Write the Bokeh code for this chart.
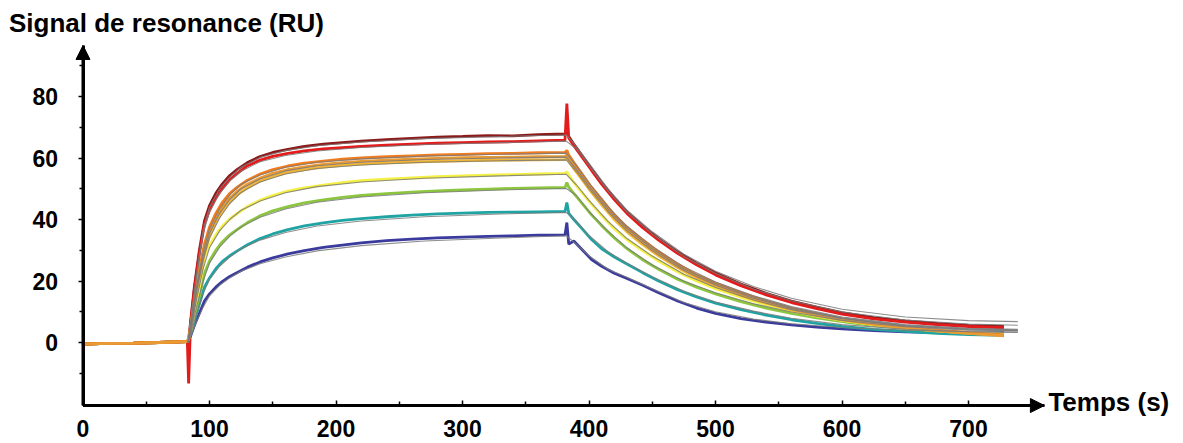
from bokeh.plotting import figure
from bokeh.models import Range1d, Arrow, NormalHead, Label, FixedTicker
from bokeh.embed import file_html
from bokeh.resources import INLINE

# ---------------- data ----------------
time_s = [0, 20, 40, 60, 81, 82.5, 83.5, 85, 88, 92, 96, 100, 105, 110, 116, 122, 130, 140, 150, 162,
          175, 190, 205, 220, 240, 260, 280, 300, 320, 340, 360, 381, 382.5, 384, 388, 395, 402, 410,
          420, 430, 442, 455, 470, 485, 500, 520, 540, 560, 580, 600, 625, 650, 675, 700, 728]

dark_red = [-0.5, -0.3, -0.2, 0, 0.3, 0.3, 1,
            6.5, 18, 30, 39.5, 44.5, 48.5, 51.5, 54.3, 56.3, 58.5, 60.5, 61.8, 62.8, 63.8, 64.5, 65, 65.5,
            66, 66.4, 66.8, 67, 67.3, 67.2, 67.6, 67.8,
            68.5, 67, 64.5, 60.5, 56.5, 52, 47, 42.5, 38, 33.8, 29.5, 25.8, 22.7, 19, 16, 13.5, 11.5, 9.7,
            8.1, 7, 6.2, 5.6, 5.2]
red = [-0.5, -0.3, -0.2, 0, 0.3, 0, -13.3,
       6, 17, 29, 38.5, 43, 47, 50, 53, 55, 57.5, 59.3, 60.5, 61.5, 62.3, 63, 63.4, 63.8, 64.2, 64.5,
       64.8, 65, 65.2, 65.3, 65.6, 65.8,
       77.7, 66.5, 64, 60, 56, 51.5, 46.5, 42, 37.5, 33.3, 29, 25.3, 22, 18.5, 15.5, 13, 11, 9.2, 7.7,
       6.6, 5.8, 5.2, 4.8]
orange = [-0.5, -0.3, -0.2, 0, 0.3, 0.3, 1,
          5, 14, 24, 32, 37.5, 42, 45.5, 48.5, 50.5, 52.8, 54.8, 56.2, 57.4, 58.3, 59, 59.6, 60, 60.4,
          60.7, 61, 61.2, 61.4, 61.5, 61.7, 61.8,
          62.5, 61, 58.5, 54.5, 50.5, 46.5, 41.5, 37.5, 33.5, 29.5, 25.5, 22, 19.3, 16.2, 13.5, 11.2, 9.3,
          7.7, 6.2, 5, 4, 3.2, 2.5]
gold = [-0.5, -0.3, -0.2, 0, 0.3, 0.3, 1,
        4.5, 13, 22.5, 30.5, 36, 40.5, 44, 47, 49.2, 51.5, 53.5, 55, 56.2, 57.1, 57.9, 58.5, 58.9, 59.3,
        59.6, 59.9, 60.1, 60.2, 60.3, 60.4, 60.5,
        61, 59.8, 57.3, 53.5, 49.6, 45.6, 40.8, 36.8, 32.8, 28.8, 24.9, 21.5, 18.8, 15.7, 13.1, 10.9, 9,
        7.5, 6, 4.8, 3.8, 3, 2.2]
tan = [-0.5, -0.3, -0.2, 0, 0.3, 0.3, 1,
       4.2, 12, 21, 29, 34.5, 39, 42.5, 45.7, 48, 50.4, 52.5, 54, 55.3, 56.2, 57, 57.6, 58, 58.4, 58.7,
       58.9, 59.1, 59.2, 59.3, 59.4, 59.5,
       60, 59, 56.5, 52.7, 48.8, 44.8, 40, 36, 32, 28.2, 24.4, 21, 18.3, 15.3, 12.8, 10.6, 8.8, 7.3,
       5.9, 4.7, 3.8, 3, 2.4]
yellow = [-0.5, -0.3, -0.2, 0, 0.3, 0.3, 1,
          3.5, 10, 18, 27.5, 31.5, 35, 37.8, 40.2, 42, 44.2, 46.3, 47.8, 49.2, 50.3, 51.2, 52, 52.6, 53.1,
          53.5, 53.9, 54.2, 54.4, 54.6, 54.8, 55,
          55.5, 54.5, 52, 48.5, 45, 41.3, 37, 33.5, 30, 26.5, 23, 20, 17.5, 14.7, 12.3, 10.3, 8.6, 7.2,
          5.8, 4.7, 3.9, 3.3, 2.8]
green = [-0.5, -0.3, -0.2, 0, 0.3, 0.3, 1,
         3, 8.5, 15, 22.5, 26.5, 30, 32.7, 35, 36.8, 39, 41.2, 42.8, 44.2, 45.4, 46.4, 47.2, 47.8, 48.4,
         48.9, 49.3, 49.6, 49.9, 50.1, 50.3, 50.4,
         52, 50.5, 48.5, 45, 41.5, 38, 34, 30.5, 27, 23.8, 20.6, 18, 15.8, 13.3, 11.2, 9.5, 8, 6.8, 5.5,
         4.5, 3.7, 3.1, 2.7]
teal = [-0.5, -0.3, -0.2, 0, 0.3, 0.3, 1,
        2.5, 7, 12.5, 18, 21, 24, 26.3, 28.2, 29.8, 31.8, 33.8, 35.3, 36.7, 37.9, 38.9, 39.7, 40.3, 40.9,
        41.4, 41.8, 42.1, 42.3, 42.4, 42.5, 42.6,
        45.5, 42, 40, 36.8, 33.5, 30.5, 27.8, 25.5, 22.8, 20, 17.2, 14.8, 12.8, 10.7, 8.9, 7.4, 6.2, 5.2,
        4.3, 3.6, 3, 2.6, 2.3]
blue = [-0.5, -0.3, -0.2, 0, 0.3, 0.3, 1,
        2, 5.5, 9.5, 13.5, 15.8, 18, 19.8, 21.5, 22.8, 24.5, 26.2, 27.5, 28.8, 29.9, 30.9, 31.7, 32.4, 33.1,
        33.6, 34, 34.3, 34.5, 34.7, 34.9, 35,
        39, 32, 33, 30, 27, 24.8, 22.5, 20.8, 18.7, 16.2, 13.5, 11.2, 9.5, 7.8, 6.6, 5.7, 5, 4.4, 3.9,
        3.5, 3.2, 3, 3.2]

# fitted curves (grey)
fit_time_s = [83, 86, 90, 95, 100, 108, 116, 125, 140, 160, 185, 220, 270, 330, 382,
              390, 400, 415, 430, 450, 475, 500, 530, 560, 600, 650, 700, 739]
fit_dark_red = [0, 9.5, 23, 36.5, 44, 50, 53.8, 57, 60.2, 62.4, 64, 65.2, 66.3, 67, 67.5,
                63.8, 58.3, 50, 43, 36, 28.7, 23.2, 18.2, 14.4, 10.8, 8.3, 7.1, 6.8]
fit_red = [0, 9, 22, 35.5, 42.5, 48.5, 52.5, 55.7, 58.8, 60.8, 62.3, 63.4, 64.4, 65, 65.5,
           63, 57.5, 49.3, 42.4, 35.3, 28, 22.5, 17.4, 13.6, 9.9, 7.3, 6, 5.6]
fit_orange = [0, 8, 19, 29.5, 37, 43.5, 48, 51.5, 54.5, 57, 58.6, 59.7, 60.6, 61.2, 61.6,
              57.6, 51.8, 44.2, 37.8, 31.2, 24.6, 19.7, 15.2, 11.7, 8.3, 5.8, 4.6, 4.3]
fit_gold = [0, 7.5, 18, 28, 35.5, 42, 46.5, 50, 53.2, 55.8, 57.5, 58.6, 59.5, 60, 60.3,
            56.4, 50.8, 43.4, 37.1, 30.5, 24, 19.2, 14.8, 11.4, 8.1, 5.6, 4.4, 4.1]
fit_tan = [0, 7, 17, 26.8, 34, 40.5, 45.2, 48.8, 52.2, 54.8, 56.6, 57.7, 58.6, 59.1, 59.4,
           55.6, 50, 42.6, 36.3, 29.8, 23.4, 18.7, 14.4, 11.1, 7.9, 5.4, 4.2, 3.9]
fit_yellow = [0, 6, 14.5, 24, 30.8, 36.3, 40, 43, 46, 48.7, 50.7, 52.2, 53.4, 54.2, 54.7,
              51.3, 46.2, 39.4, 33.8, 28.1, 22.2, 17.9, 13.8, 10.7, 7.7, 5.4, 4.3, 4]
fit_green = [0, 5, 12, 20, 25.8, 31, 34.6, 37.6, 40.7, 43.4, 45.6, 47.3, 48.7, 49.6, 50.1,
             47.8, 42.6, 36.2, 30.8, 25.2, 19.9, 16.2, 12.6, 9.9, 7.2, 5.1, 4, 3.8]
fit_teal = [0, 4, 9.5, 16, 20.5, 24.8, 27.8, 30.5, 33.3, 35.8, 37.9, 39.5, 40.9, 41.8, 42.3,
            39.5, 34.8, 29.5, 25.8, 21.4, 16.7, 13.2, 10.2, 7.9, 5.8, 4.3, 3.5, 3.3]
fit_blue = [0, 3, 7, 11.5, 15.2, 18.6, 21, 23.2, 25.6, 27.8, 29.8, 31.5, 33, 34, 34.7,
            32, 28.2, 23.8, 21.2, 17.5, 13, 10, 7.6, 6.1, 4.9, 4, 3.6, 3.4]

x_ticks = [0, 100, 200, 300, 400, 500, 600, 700]
y_ticks = [0, 20, 40, 60, 80]

# ---------------- styling ----------------
FONT = "Liberation Sans"
colours = {
    "blue": "#3b3b9e", "teal": "#1fa3a3", "green": "#8cc63e", "yellow": "#f4f046",
    "dark_red": "#8c1a1a", "red": "#e31b1b", "tan": "#f2b632", "orange": "#f07c1f", "gold": "#e89a34",
}
draw = [("blue", blue, fit_blue), ("teal", teal, fit_teal), ("green", green, fit_green),
        ("yellow", yellow, fit_yellow), ("dark_red", dark_red, fit_dark_red), ("red", red, fit_red),
        ("tan", tan, fit_tan), ("orange", orange, fit_orange), ("gold", gold, fit_gold)]

# axis extent (data units) and the visible window around it
AX_X0, AX_X1 = 0, 760
AX_Y0, AX_Y1 = -20.5, 96.6
W, H = 1183, 443
PX_PER_S, PX_PER_RU = 1.265, 3.075
ORIGIN_X, ORIGIN_Y = 82.5, 342.0   # pixel position of (0, 0)

x_range = Range1d(-ORIGIN_X / PX_PER_S, (W - ORIGIN_X) / PX_PER_S)
y_range = Range1d(-(H - ORIGIN_Y) / PX_PER_RU, ORIGIN_Y / PX_PER_RU)

p = figure(width=W, height=H, output_backend="svg", toolbar_location=None,
           x_range=x_range, y_range=y_range,
           min_border_left=0, min_border_right=0, min_border_top=0, min_border_bottom=0)
p.outline_line_color = None
p.xgrid.visible = False
p.ygrid.visible = False
p.background_fill_color = "white"

for name, ys, fys in draw:
    p.line(time_s, ys, line_color=colours[name], line_width=2.8)
for name, ys, fys in draw:
    p.line(fit_time_s, fys, line_color="#7a7a7a", line_width=1.1, line_alpha=0.85)

for ax in (p.xaxis[0], p.yaxis[0]):
    ax.axis_line_width = 3
    ax.axis_line_color = "black"
    ax.major_tick_line_color = "black"
    ax.minor_tick_line_color = "black"
    ax.major_tick_line_width = 1.5
    ax.minor_tick_line_width = 1.5
    ax.major_label_text_font = FONT
    ax.major_label_text_font_style = "bold"
    ax.major_label_text_font_size = "23px"
    ax.major_label_text_color = "black"

p.xaxis.fixed_location = AX_Y0
p.xaxis.bounds = (AX_X0, AX_X1)
p.xaxis.ticker = FixedTicker(ticks=x_ticks, minor_ticks=[50, 150, 250, 350, 450, 550, 650])
p.xaxis.major_tick_in = 5
p.xaxis.major_tick_out = 0
p.xaxis.minor_tick_in = 4
p.xaxis.minor_tick_out = 0
p.xaxis.major_label_standoff = 14

p.yaxis.fixed_location = AX_X0
p.yaxis.bounds = (AX_Y0, AX_Y1)
p.yaxis.ticker = FixedTicker(ticks=y_ticks, minor_ticks=[-10, 10, 30, 50, 70, 90])
p.yaxis.major_tick_in = 0
p.yaxis.major_tick_out = 5
p.yaxis.minor_tick_in = 0
p.yaxis.minor_tick_out = 4
p.yaxis.major_label_standoff = 20

# arrow heads on the axes
p.add_layout(Arrow(end=NormalHead(size=14, fill_color="black", line_color="black"),
                   x_start=AX_X0, y_start=AX_Y0, x_end=AX_X1, y_end=AX_Y0, line_width=3, line_color="black"))
p.add_layout(Arrow(end=NormalHead(size=14, fill_color="black", line_color="black"),
                   x_start=AX_X0, y_start=AX_Y0, x_end=AX_X0, y_end=AX_Y1, line_width=3, line_color="black"))

p.add_layout(Label(x=AX_X1, y=AX_Y0 + 1.0, x_offset=4, text="Temps (s)", text_font=FONT,
                   text_font_style="bold", text_font_size="26px", text_baseline="middle",
                   text_align="left", text_color="black"))
p.add_layout(Label(x=-58.5, y=103.8, text="Signal de resonance (RU)", text_font=FONT,
                   text_font_style="bold", text_font_size="26px", text_baseline="alphabetic",
                   text_align="left", text_color="black"))

open("out.html", "w").write(file_html(p, INLINE))
